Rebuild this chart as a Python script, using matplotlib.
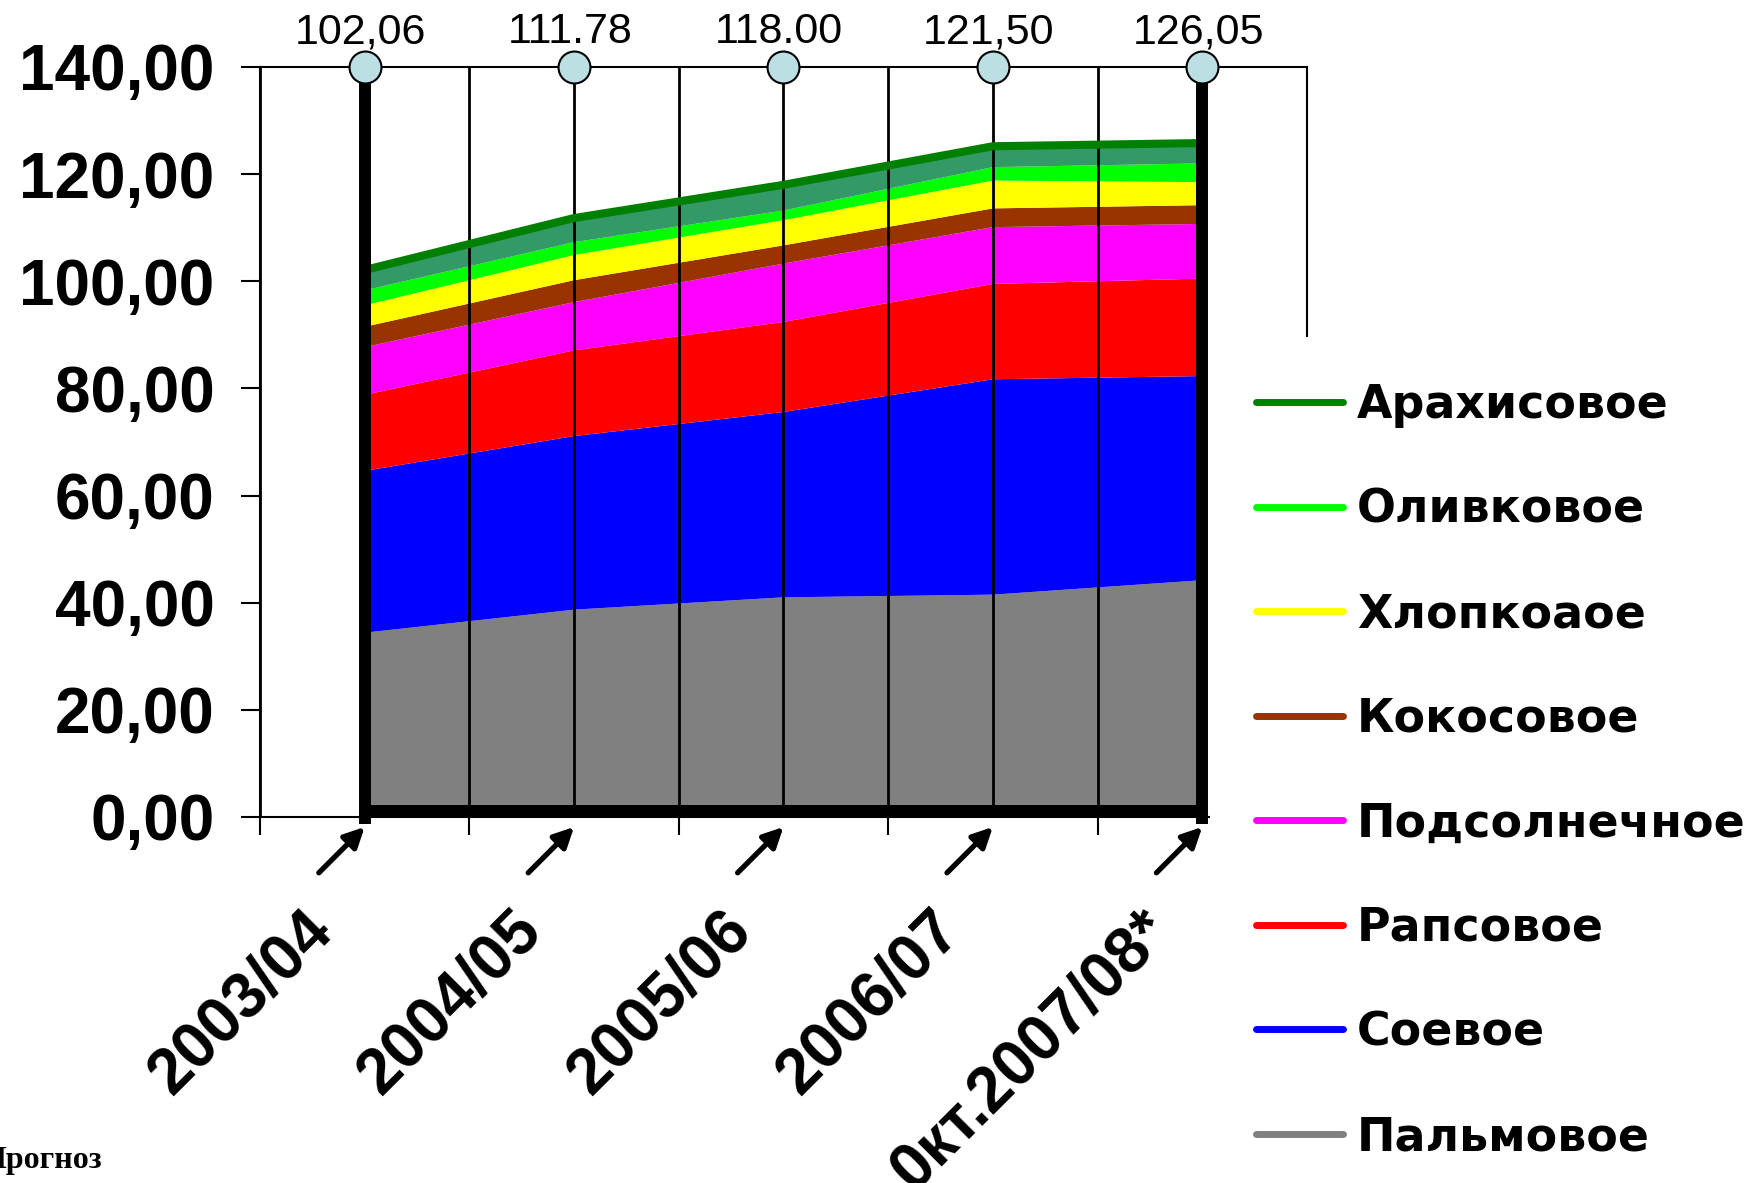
import matplotlib
matplotlib.use('Agg')
import matplotlib.pyplot as plt
import numpy as np
from matplotlib.lines import Line2D
from matplotlib.transforms import ScaledTranslation

plt.rcParams['font.family'] = ['Liberation Sans', 'DejaVu Sans']

seasons = ['2003/04', '2004/05', '2005/06', '2006/07', '0кт.2007/08*']
total_labels = ['102,06', '111.78', '118.00', '121,50', '126,05']

# stacked from bottom to top
palm = [34.4, 38.7, 41.0, 41.5, 44.2]
soy = [30.2, 32.4, 34.6, 40.2, 38.1]
rapeseed = [14.2, 16.0, 16.8, 17.8, 18.2]
sunflower = [8.9, 9.0, 10.9, 10.6, 10.2]
coconut = [3.8, 4.1, 3.4, 3.5, 3.5]
cotton = [4.0, 4.7, 4.7, 5.2, 4.3]
olive = [2.8, 2.4, 1.8, 2.5, 3.5]
peanut = [3.8, 4.5, 4.8, 3.9, 3.8]

series = [palm, soy, rapeseed, sunflower, coconut, cotton, olive, peanut]
fill_colours = ['#808080', '#0000FF', '#FF0000', '#FF00FF', '#993300', '#FFFF00', '#00FF00', '#339966']
names = ['Пальмовое', 'Соевое', 'Рапсовое', 'Подсолнечное', 'Кокосовое', 'Хлопкоаое', 'Оливковое', 'Арахисовое']
line_colours = ['#808080', '#0000FF', '#FF0000', '#FF00FF', '#993300', '#FFFF00', '#00FF00', '#008000']

y_max = 140
x = np.arange(len(seasons))

fig = plt.figure(figsize=(17.59, 11.83), dpi=100)
ax = fig.add_axes([0.1478, 0.3094, 0.5952, 0.6340])
ax.set_axisbelow('line')

ax.stackplot(x, *series, colors=fill_colours, linewidth=0, zorder=1)
top = np.sum(series, axis=0)
ax.plot(x, top, color='#008000', lw=5.8, zorder=2, solid_capstyle='butt')

ax.set_xlim(-0.5, len(seasons) - 0.5)
ax.set_ylim(0, y_max)

# thick frame around the data
ax.vlines([x[0], x[-1]], -1.4, y_max, color='black', lw=8.6, zorder=3, clip_on=False)
ax.fill_between([x[0], x[-1]], 0, 2.3, color='black', zorder=3, lw=0)

# axes decorations
for s in ['left', 'top', 'right']:
    ax.spines[s].set_linewidth(1.5)
ax.spines['bottom'].set_visible(False)
xl = ax.get_xlim()
ax.plot([xl[0], x[-1]], [0, 0], color='black', lw=1.5, clip_on=False, zorder=2)
ax.plot([x[-1], xl[1]], [0, 0], color='black', lw=1.5, ls=(0, (5, 3)), clip_on=False, zorder=2)

ax.set_xticks(x)
ax.set_xticks(np.arange(xl[0], xl[1] + 0.01, 1), minor=True)
ax.grid(axis='x', which='both', color='black', lw=2)
ax.tick_params(axis='x', which='major', length=0, pad=75)
ax.tick_params(axis='x', which='minor', length=13, width=1.5, direction='out')
ax.set_xticklabels(seasons, rotation=45, rotation_mode='anchor', ha='right', va='center',
                   fontsize=46, fontweight='bold')
shift = ScaledTranslation(-42 / 100, 0, fig.dpi_scale_trans)
for lbl in ax.get_xticklabels():
    lbl.set_transform(lbl.get_transform() + shift)

yt = np.arange(0, y_max + 1, 20)
ax.set_yticks(yt)
ax.set_yticklabels(['{:.2f}'.format(v).replace('.', ',') for v in yt], fontsize=46, fontweight='bold')
ax.tick_params(axis='y', length=13.7, width=1.5, direction='out', pad=19)

# circles and totals on top
ax.plot(x, [y_max] * len(x), 'o', ms=23, mfc='#BBDFE3', mec='black', mew=1.5, clip_on=False, zorder=5)
for xi, lbl in zip(x, total_labels):
    ax.annotate(lbl, xy=(xi, y_max), xytext=(-3, 17), textcoords='offset points',
                ha='center', va='baseline', fontsize=31, annotation_clip=False)

# arrows pointing to the seasons
tip = ax.transData + ScaledTranslation(0, -10 / 100, fig.dpi_scale_trans)
for xi in x:
    ax.annotate('', xy=(xi, 0), xycoords=tip, xytext=(-33, -33), textcoords='offset points',
                annotation_clip=False,
                arrowprops=dict(arrowstyle='-|>', color='black', lw=3.8, mutation_scale=30,
                                shrinkA=0, shrinkB=0))

handles = [Line2D([], [], color=c, lw=5, solid_capstyle='round') for c in line_colours[::-1]]
fig.legend(handles, names[::-1], loc='upper left', bbox_to_anchor=(0.688, 0.715),
           frameon=True, facecolor='white', edgecolor='none', framealpha=1, fancybox=False,
           prop=dict(family='DejaVu Sans', weight='bold', size=33),
           handlelength=1.9, handletextpad=0.3, labelspacing=1.30, borderpad=1.0, borderaxespad=0)

fig.text(-0.0105, 0.0127, 'Прогноз', family='Liberation Serif', weight='bold', fontsize=23,
         ha='left', va='baseline')

fig.savefig('out.png', dpi=100)
